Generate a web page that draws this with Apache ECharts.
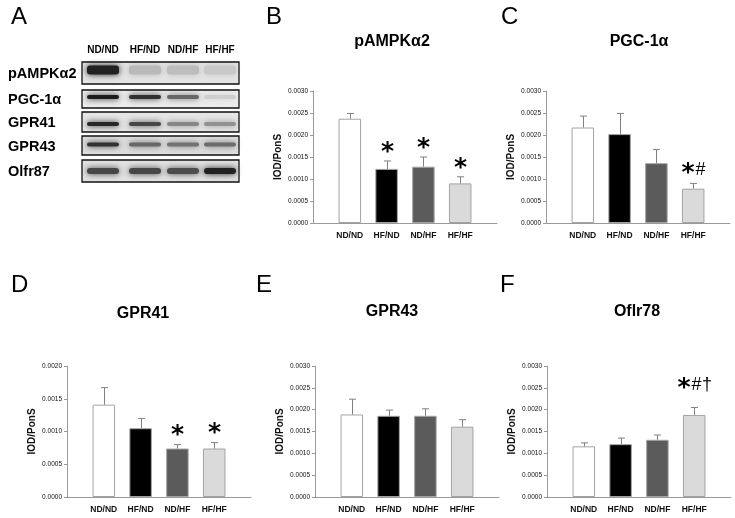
<!DOCTYPE html>
<html><head><meta charset="utf-8">
<script src="https://cdn.jsdelivr.net/npm/echarts@6/dist/echarts.min.js"></script>
<style>html,body{margin:0;padding:0;background:#fff}#c{width:735px;height:518px}</style>
</head><body><div id="c"></div>
<script>
// ---------- data ----------
const groups = ['ND/ND', 'HF/ND', 'ND/HF', 'HF/HF'];
const yTickStep = 0.0005;

const pampkMean   = [0.00237, 0.00123, 0.00128, 0.00090];
const pampkErrTop = [0.00249, 0.00141, 0.00150, 0.00105];
const pampkMarks  = ['', '*', '*', '*'];

const pgcMean   = [0.00217, 0.00202, 0.00136, 0.00078];
const pgcErrTop = [0.00243, 0.00249, 0.00167, 0.00090];
const pgcMarks  = ['', '', '', '*#'];

const gpr41Mean   = [0.00141, 0.00105, 0.00074, 0.00074];
const gpr41ErrTop = [0.00167, 0.00120, 0.00080, 0.00083];
const gpr41Marks  = ['', '', '*', '*'];

const gpr43Mean   = [0.00189, 0.00186, 0.00186, 0.00161];
const gpr43ErrTop = [0.00224, 0.00199, 0.00202, 0.00177];
const gpr43Marks  = ['', '', '', ''];

const olfrMean   = [0.00116, 0.00121, 0.00131, 0.00188];
const olfrErrTop = [0.00124, 0.00135, 0.00142, 0.00205];
const olfrMarks  = ['', '', '', '*#†'];

// western blot (panel A): relative band intensity per protein row and lane
const blotRows = ['pAMPKα2', 'PGC-1α', 'GPR41', 'GPR43', 'Olfr87'];
const blotIntensity = [
  [0.92, 0.22, 0.20, 0.15],
  [0.95, 0.85, 0.60, 0.12],
  [0.90, 0.75, 0.45, 0.40],
  [0.85, 0.60, 0.55, 0.58],
  [0.75, 0.75, 0.72, 0.92]
];

// ---------- layout / style ----------
const FONT = 'Liberation Sans, Arial, sans-serif';
const barColors = ['#ffffff', '#000000', '#5b5b5b', '#dadada'];
const panels = [
  {letter: 'B', lx: 266, ly: 17, title: 'pAMPKα2', tx: 392, ty: 42, mean: pampkMean, err: pampkErrTop, marks: pampkMarks, max: 0.003,
   grid: {left: 313, top: 91, width: 184, height: 132}, markGap: 14},
  {letter: 'C', lx: 501, ly: 17, title: 'PGC-1α', tx: 639, ty: 42, mean: pgcMean, err: pgcErrTop, marks: pgcMarks, max: 0.003,
   grid: {left: 546, top: 91, width: 184, height: 132}, markGap: 15},
  {letter: 'D', lx: 11, ly: 285, title: 'GPR41', tx: 143, ty: 314, mean: gpr41Mean, err: gpr41ErrTop, marks: gpr41Marks, max: 0.002,
   grid: {left: 67, top: 366, width: 184, height: 131}, markGap: 15},
  {letter: 'E', lx: 256, ly: 285, title: 'GPR43', tx: 392, ty: 312, mean: gpr43Mean, err: gpr43ErrTop, marks: gpr43Marks, max: 0.003,
   grid: {left: 315, top: 366, width: 184, height: 131}, markGap: 15},
  {letter: 'F', lx: 500, ly: 285, title: 'Oflr78', tx: 637, ty: 312, mean: olfrMean, err: olfrErrTop, marks: olfrMarks, max: 0.003,
   grid: {left: 547, top: 366, width: 184, height: 131}, markGap: 24}
];

// glyph styles for significance marks
const markStyle = {
  '*': {font: 'bold 25px DejaVu Sans, sans-serif', w: 12, dy: 5.5},
  '#': {font: '18px ' + FONT, w: 9, dy: 1.5},
  '†': {font: '18px ' + FONT, w: 8, dy: 1.5}
};

const grids = [], xAxes = [], yAxes = [], series = [], graphics = [];
const axisGray = '#9a9a9a';

panels.forEach((p, i) => {
  grids.push(Object.assign({containLabel: false}, p.grid));
  xAxes.push({
    type: 'category', gridIndex: i, boundaryGap: false,
    data: [''].concat(groups, ['']),
    axisLine: {lineStyle: {color: axisGray, width: 1}},
    axisTick: {show: false},
    axisLabel: {interval: 0, fontSize: 8.5, fontWeight: 'bold', color: '#111', margin: 8, fontFamily: FONT},
    splitLine: {show: false}
  });
  yAxes.push({
    type: 'value', gridIndex: i, min: 0, max: p.max, interval: yTickStep,
    axisLine: {show: true, lineStyle: {color: axisGray, width: 1}},
    axisTick: {show: true, length: 3, lineStyle: {color: axisGray}},
    axisLabel: {fontSize: 6.5, color: '#111', margin: 5, fontFamily: FONT, formatter: v => v.toFixed(4)},
    splitLine: {show: false},
    name: 'IOD/PonS', nameLocation: 'middle', nameGap: 30,
    nameTextStyle: {fontSize: 10, fontWeight: 'bold', color: '#111', fontFamily: FONT}
  });
  series.push({
    type: 'bar', xAxisIndex: i, yAxisIndex: i, barWidth: 22.5,
    data: p.mean.map((v, j) => ({value: [j + 1, v], itemStyle: {color: barColors[j]}})),
    itemStyle: {borderColor: '#a3a3a3', borderWidth: 1},
    animation: false, silent: true
  });
  const marks = p.marks, gap = p.markGap;
  series.push({
    type: 'custom', xAxisIndex: i, yAxisIndex: i, z: 5,
    data: p.mean.map((v, j) => [j + 1, v, p.err[j]]),
    renderItem: function (params, api) {
      const base = api.coord([api.value(0), api.value(1)]);
      const top = api.coord([api.value(0), api.value(2)]);
      const x = Math.round(base[0]) + 0.5;
      const children = [
        {type: 'line', shape: {x1: x, y1: base[1], x2: x, y2: top[1]}, style: {stroke: '#808080', lineWidth: 1}},
        {type: 'line', shape: {x1: x - 3.5, y1: top[1], x2: x + 3.5, y2: top[1]}, style: {stroke: '#808080', lineWidth: 1}}
      ];
      const m = Array.from(marks[params.dataIndex] || '');
      if (m.length) {
        const sp = 2;
        const total = m.reduce((s, ch) => s + markStyle[ch].w, 0) + sp * (m.length - 1);
        let cx = x - total / 2;
        m.forEach(ch => {
          const st = markStyle[ch];
          children.push({type: 'text', x: cx + st.w / 2, y: top[1] - gap + st.dy,
            style: {text: ch, align: 'center', verticalAlign: 'middle', textAlign: 'center', textVerticalAlign: 'middle',
                    font: st.font, fill: '#000'}});
          cx += st.w + sp;
        });
      }
      return {type: 'group', children: children};
    },
    animation: false, silent: true
  });
  graphics.push({type: 'text', x: p.lx, y: p.ly,
    style: {text: p.letter, font: '24px ' + FONT, fill: '#000', align: 'left', verticalAlign: 'middle', textAlign: 'left', textVerticalAlign: 'middle'}});
  graphics.push({type: 'text', x: p.tx, y: p.ty,
    style: {text: p.title, font: 'bold 16px ' + FONT, fill: '#000', align: 'center', verticalAlign: 'middle', textAlign: 'center', textVerticalAlign: 'middle'}});
});

// ---------- panel A: western blot ----------
graphics.push({type: 'text', x: 11, y: 17,
  style: {text: 'A', font: '24px ' + FONT, fill: '#000', align: 'left', verticalAlign: 'middle', textAlign: 'left', textVerticalAlign: 'middle'}});
const laneX = [103, 145, 183, 220];
groups.forEach((g, j) => {
  graphics.push({type: 'text', x: laneX[j], y: 50,
    style: {text: g, font: 'bold 10px ' + FONT, fill: '#000', align: 'center', verticalAlign: 'middle', textAlign: 'center', textVerticalAlign: 'middle'}});
});
const boxY = [62, 90, 112, 136, 160];
const boxH = [22, 18, 20, 19, 22];
const bandH = [9, 4, 4, 4, 6];
const bandDy = [-3, -2, 2, -1, 0];
const boxBg = ['#e4e4e4', '#ececec', '#e6e6e6', '#dedede', '#e2e2e2'];
blotRows.forEach((r, k) => {
  graphics.push({type: 'text', x: 8, y: boxY[k] + boxH[k] / 2 + 1,
    style: {text: r, font: 'bold 14.5px ' + FONT, fill: '#000', align: 'left', verticalAlign: 'middle', textAlign: 'left', textVerticalAlign: 'middle'}});
  graphics.push({type: 'rect', shape: {x: 82, y: boxY[k], width: 157, height: boxH[k]},
    style: {fill: boxBg[k], stroke: 'none'}});
  blotIntensity[k].forEach((v, j) => {
    const c = Math.round(232 - 215 * v);
    const col = 'rgb(' + c + ',' + c + ',' + c + ')';
    graphics.push({type: 'rect',
      shape: {x: laneX[j] - 16, y: boxY[k] + boxH[k] / 2 - bandH[k] / 2 + bandDy[k], width: 32, height: bandH[k], r: 3},
      style: {fill: col, shadowBlur: 6, shadowColor: col}});
  });
  graphics.push({type: 'rect', shape: {x: 82, y: boxY[k], width: 157, height: boxH[k]},
    style: {fill: 'none', stroke: '#111', lineWidth: 1.3}});
});

const chart = echarts.init(document.getElementById('c'), null, {renderer: 'canvas'});
chart.setOption({
  animation: false,
  backgroundColor: '#fff',
  grid: grids, xAxis: xAxes, yAxis: yAxes, series: series,
  graphic: {elements: graphics}
});
</script>
</body></html>
